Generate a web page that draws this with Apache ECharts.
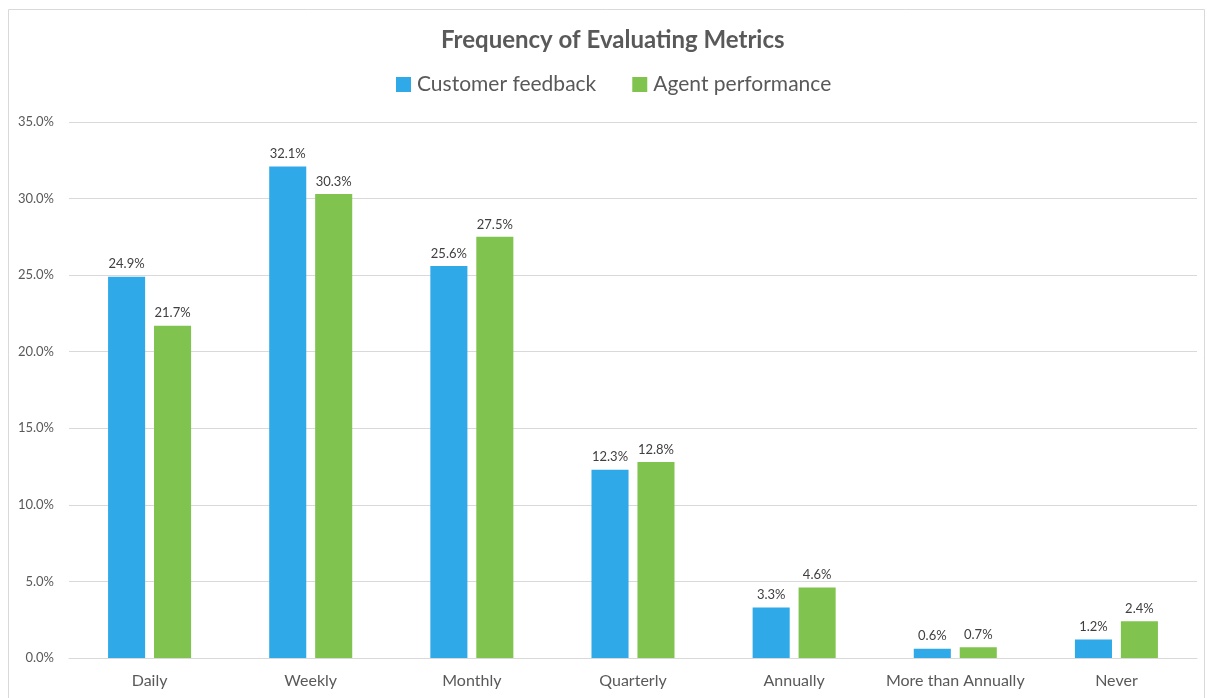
<!DOCTYPE html>
<html>
<head>
<meta charset="utf-8">
<script src="https://cdn.jsdelivr.net/npm/echarts@6/dist/echarts.min.js"></script>
<style>
  html, body { margin: 0; padding: 0; background: #fff; }
  #chart { width: 1207px; height: 698px; }
</style>
</head>
<body>
<div id="chart"></div>
<script>
// Share of respondents evaluating each metric, by frequency
const categories = ['Daily', 'Weekly', 'Monthly', 'Quarterly', 'Annually', 'More than Annually', 'Never'];
const customerFeedback = [24.9, 32.1, 25.6, 12.3, 3.3, 0.6, 1.2];
const agentPerformance = [21.7, 30.3, 27.5, 12.8, 4.6, 0.7, 2.4];
const yTicks = { min: 0, max: 35, interval: 5 };

const FONT = 'Lato, "Open Sans", sans-serif';
const chart = echarts.init(document.getElementById('chart'));

const labelOpt = {
  show: true,
  position: 'top',
  distance: 6,
  color: '#404040',
  fontSize: 13,
  fontFamily: FONT,
  formatter: p => p.value.toFixed(1) + '%'
};

chart.setOption({
  animation: false,
  backgroundColor: '#fff',
  title: {
    text: 'Frequency of Evaluating Metrics',
    left: 436,
    top: 23,
    textStyle: { fontFamily: FONT, fontSize: 24, fontWeight: 'bold', color: '#595959' }
  },
  legend: {
    top: 69,
    left: 391,
    itemWidth: 15,
    itemHeight: 15,
    itemGap: 36,
    icon: 'rect',
    textStyle: { fontFamily: FONT, fontSize: 21, color: '#595959', padding: [0, 0, 0, 1] }
  },
  grid: { left: 69, right: 10, top: 122, bottom: 40, containLabel: false },
  xAxis: {
    type: 'category',
    data: categories,
    axisLine: { lineStyle: { color: '#d9d9d9', width: 1 } },
    axisTick: { show: false },
    axisLabel: { color: '#595959', fontSize: 16, fontFamily: FONT, margin: 15, interval: 0 }
  },
  yAxis: {
    type: 'value',
    min: yTicks.min,
    max: yTicks.max,
    interval: yTicks.interval,
    axisLine: { show: false },
    axisTick: { show: false },
    splitLine: { lineStyle: { color: '#d9d9d9', width: 1 } },
    axisLabel: {
      color: '#595959', fontSize: 13, fontFamily: FONT, margin: 15,
      formatter: v => v.toFixed(1) + '%'
    }
  },
  series: [
    {
      name: 'Customer feedback',
      type: 'bar',
      data: customerFeedback,
      barWidth: '23%',
      barGap: '24%',
      itemStyle: { color: '#30A9E8' },
      label: labelOpt
    },
    {
      name: 'Agent performance',
      type: 'bar',
      data: agentPerformance,
      barWidth: '23%',
      itemStyle: { color: '#80C34F' },
      label: labelOpt
    }
  ],
  graphic: [{
    type: 'rect',
    shape: { x: 8.5, y: 9.5, width: 1196, height: 700 },
    style: { fill: 'none', stroke: '#d9d9d9', lineWidth: 1 },
    silent: true
  }]
});
</script>
</body>
</html>
